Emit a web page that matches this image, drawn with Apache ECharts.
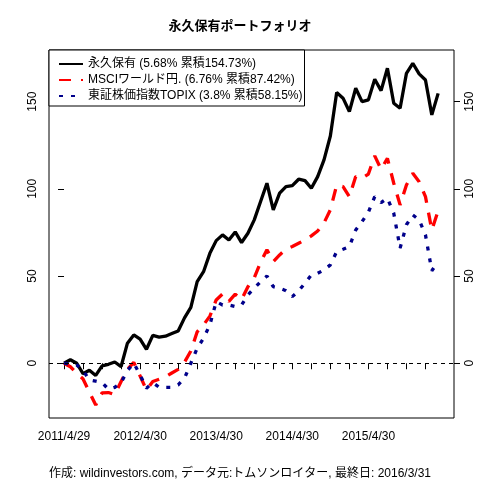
<!DOCTYPE html>
<html>
<head>
<meta charset="utf-8">
<script src="https://cdn.jsdelivr.net/npm/echarts@6/dist/echarts.min.js"></script>
<style>
html,body{margin:0;padding:0;background:#fff;}
#c{width:480px;height:480px;}
</style>
</head>
<body>
<div id="c"></div>
<script>
// Month index 0 = 2011/4/29 ... 59 = 2016/3/31
const tickLabels = ["2011/4/29", "2012/4/30", "2013/4/30", "2014/4/30", "2015/4/30"];
const tickLabelIdx = [0, 12, 24, 36, 48];
const names = ["永久保有 (5.68% 累積154.73%)", "MSCIワールド円. (6.76% 累積87.42%)", "東証株価指数TOPIX (3.8% 累積58.15%)"];
const permanent = [0, 2, 0, -6, -4, -7, -1.5, -0.6, 0.7, -1.9,
  11.5, 16.2, 13.8, 8, 16, 15, 15.5, 17, 18.5, 26,
  32, 46.8, 52.5, 63, 70.3, 73.6, 70.7, 75.3, 69.2, 74.5,
  82.2, 92.7, 103.2, 87.9, 97.5, 101.3, 101.8, 105.5, 104.7, 100.3,
  107, 116.6, 130.3, 155.2, 152, 144.3, 157.7, 150, 151, 162.8,
  156.3, 169.1, 149.1, 146.2, 166.2, 172, 165.9, 162.4, 142.4, 154.73];
const msci = [0, -2, -5.7, -9, -16.5, -24, -17, -16.8, -18, -10.5,
  -3.5, 0.5, -7.3, -15.3, -10.5, -9.2, -7.8, -5.6, -3.5, 0.6,
  7, 18, 22, 27, 36.3, 39.7, 35.5, 39.6, 36.5, 43.9,
  49, 58, 65, 58.3, 62.1, 65.4, 66.9, 68.8, 70.7, 73,
  75.8, 80.5, 87.9, 102.2, 101.3, 95.5, 107, 106.1, 108.5, 118.9,
  111.2, 117.5, 103.2, 90.8, 102.2, 108.9, 104.1, 95.5, 76.4, 87.42];
const topix = [0, -0.5, -1, -4.2, -9.6, -10.3, -11.1, -14.9, -13.8, -11.1,
  -4.2, 0, -6.7, -14.3, -11.1, -13.8, -13.8, -13.8, -12.4, -8.6,
  0, 8.6, 14.3, 22, 35.3, 33.4, 33.4, 32.5, 33.4, 39.2,
  43, 46.8, 50, 43.9, 43, 41.6, 38.2, 41.5, 45.9, 50.6,
  51.6, 53.5, 56.4, 64, 65.4, 66.9, 76.4, 81.2, 86.6, 95.5,
  92.1, 94.6, 86, 66, 79.4, 85, 82.2, 73.6, 53, 58.15];
const yTicks = [0, 50, 100, 150];

const FONT = "'Liberation Sans', 'Noto Sans CJK JP', sans-serif";
const toXY = arr => arr.map((v, i) => [i, v]);
const xTicks = [];
for (let i = 0; i < 60; i += 3) xTicks.push(i);

const chart = echarts.init(document.getElementById('c'), null, {renderer: 'canvas'});
const yAxisCommon = {
  type: 'value', min: -31.4, max: 179.6,
  splitLine: {show: false},
  axisLine: {show: false},
  axisTick: {show: true, length: 6, customValues: yTicks, lineStyle: {color: '#000', width: 1}},
  axisLabel: {customValues: yTicks, rotate: 90, margin: 10, color: '#000', fontSize: 12, fontFamily: FONT}
};
chart.setOption({
  animation: false,
  backgroundColor: '#fff',
  title: [
    {text: '永久保有ポートフォリオ', left: 'center', top: 15,
     textStyle: {fontSize: 13, fontWeight: 'bold', color: '#000', fontFamily: FONT}},
    {text: '作成: wildinvestors.com, データ元:トムソンロイター, 最終日: 2016/3/31', left: 'center', top: 463,
     textStyle: {fontSize: 12, fontWeight: 'normal', color: '#000', fontFamily: FONT}}
  ],
  legend: {
    orient: 'vertical', left: 49, top: 50,
    padding: [8, 2, 4, 9], itemGap: 4, itemWidth: 24, itemHeight: 14,
    backgroundColor: '#fff', borderColor: '#000', borderWidth: 1, borderRadius: 0,
    itemStyle: {color: 'transparent', borderColor: 'transparent', borderWidth: 0},
    textStyle: {fontSize: 12, color: '#000', fontFamily: FONT},
    data: names
  },
  grid: {left: 49, right: 26, top: 50, bottom: 62, show: true, borderColor: '#000', borderWidth: 1, backgroundColor: 'transparent'},
  xAxis: {
    type: 'value', min: -2.37, max: 61.5,
    splitLine: {show: false},
    axisLine: {show: false},
    axisTick: {show: true, length: 6, customValues: xTicks, lineStyle: {color: '#000', width: 1}},
    axisLabel: {customValues: tickLabelIdx, margin: 13, color: '#000', fontSize: 12, fontFamily: FONT,
      formatter: v => { const k = tickLabelIdx.indexOf(Math.round(v)); return k >= 0 ? tickLabels[k] : ''; }}
  },
  yAxis: [
    Object.assign({position: 'left'}, yAxisCommon),
    Object.assign({position: 'right'}, yAxisCommon)
  ],
  series: [
    {name: names[0], type: 'line', data: toXY(permanent), showSymbol: false, symbol: 'none',
     lineStyle: {color: '#000', width: 3.3, type: 'solid'}, itemStyle: {color: '#000'},
     markLine: {silent: true, symbol: 'none', label: {show: false},
       lineStyle: {color: '#000', width: 1, type: [4, 4]}, data: [{yAxis: 0}]}},
    {name: names[1], type: 'line', data: toXY(msci), showSymbol: false, symbol: 'none',
     lineStyle: {color: '#ff0000', width: 3.3, type: [12, 10], cap: 'butt'}, itemStyle: {color: '#ff0000'}},
    {name: names[2], type: 'line', data: toXY(topix), showSymbol: false, symbol: 'none',
     lineStyle: {color: '#00008b', width: 3.3, type: [4, 8], cap: 'butt'}, itemStyle: {color: '#00008b'}}
  ]
});
</script>
</body>
</html>
